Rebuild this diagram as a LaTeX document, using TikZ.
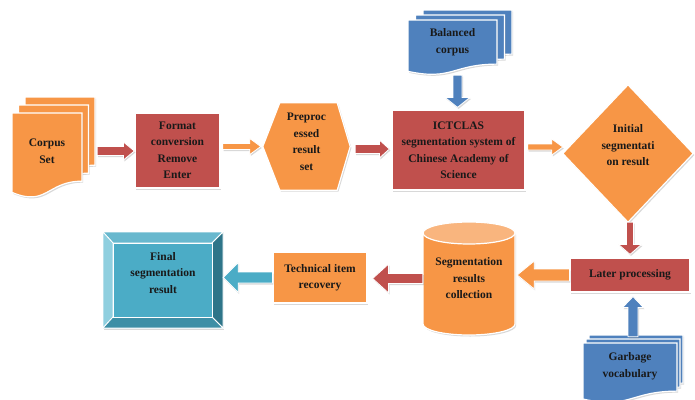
\documentclass[tikz,border=0pt]{standalone}
\usepackage{fontspec}
\setmainfont{Liberation Serif}
\usetikzlibrary{shadows,backgrounds,calc}
\definecolor{redC}{HTML}{C0504D}
\definecolor{orgC}{HTML}{F79646}
\definecolor{bluC}{HTML}{4F81BD}
\definecolor{tealC}{HTML}{4BACC6}
\definecolor{tealL}{HTML}{8FCFDF}
\definecolor{tealM}{HTML}{68B8CE}
\definecolor{tealD}{HTML}{2E7589}
\definecolor{tealB}{HTML}{3D8FA6}
\tikzset{
  shp/.style={draw=white, line width=1.2pt, drop shadow={shadow xshift=1.2pt, shadow yshift=-1.5pt, opacity=0.3}},
  txt/.style={font=\bfseries\fontsize{11.5}{16.5}\selectfont, align=center, text=black!90, inner sep=0pt},
  box/.style={txt, shp, rectangle},
  hole/.style={txt, rectangle, draw=none},
  arr/.style={draw=white, line width=0.8pt, drop shadow={shadow xshift=1pt, shadow yshift=-1.5pt, opacity=0.3}},
  bev/.style={draw=white, line width=0.8pt},
}
\newcommand\docpage[5]{%
  \filldraw[shp,#5] (#1,#2) -- ({#1+#3},#2) -- ({#1+#3},{#2+0.802*#4})
    .. controls ({#1+0.5*#3},{#2+0.802*#4}) and ({#1+0.5*#3},{#2+1.107*#4}) .. (#1,{#2+0.934*#4}) -- cycle;}
\newcommand\harr[6]{%
  \path[#1] let \p1=(#2), \p2=(#3), \n1={sign(\x2-\x1)} in
   (\x1,{\y1+#4}) -- ({\x2-(\n1)*#6},{\y1+#4}) -- ({\x2-(\n1)*#6},{\y1+#5}) -- (\x2,\y1)
   -- ({\x2-(\n1)*#6},{\y1-#5}) -- ({\x2-(\n1)*#6},{\y1-#4}) -- (\x1,{\y1-#4}) -- cycle;}
\newcommand\varr[6]{%
  \path[#1] let \p1=(#2), \p2=(#3), \n1={sign(\y2-\y1)} in
   ({\x1+#4},\y1) -- ({\x1+#4},{\y2-(\n1)*#6}) -- ({\x1+#5},{\y2-(\n1)*#6}) -- (\x1,\y2)
   -- ({\x1-#5},{\y2-(\n1)*#6}) -- ({\x1-#4},{\y2-(\n1)*#6}) -- ({\x1-#4},\y1) -- cycle;}
\begin{document}
\begin{tikzpicture}[x=1pt,y=-1pt]
\useasboundingbox (0,0) rectangle (695,399);
% ---------- nodes ----------
\node[hole, minimum width=70pt, minimum height=84pt] (cs) at (47,151) {Corpus\\Set};
\node[box, fill=redC, minimum width=85pt, minimum height=75pt] (fmt) at (177.5,150.5) {Format\\conversion\\Remove\\Enter};
\node[hole, minimum width=87pt, minimum height=87pt,
      label={[txt,yshift=4.5pt]center:{Preproc\\essed\\result\\set}}] (pre) at (306.5,146.5) {};
\node[box, fill=redC, minimum width=133pt, minimum height=80pt] (ict) at (458.5,150) {ICTCLAS\\segmentation system of\\Chinese Academy of\\Science};
\node[hole, minimum width=89pt, minimum height=44pt] (bal) at (452.5,42) {Balanced\\corpus};
\node[hole, minimum width=130pt, minimum height=137pt,
      label={[txt,yshift=8pt]center:{Initial\\segmentati\\on result}}] (dia) at (628,153.5) {};
\node[box, fill=redC, minimum width=120pt, minimum height=34pt] (later) at (630,275) {Later processing};
\node[hole, minimum width=94pt, minimum height=46pt] (gar) at (630,366) {Garbage\\vocabulary};
\node[hole, minimum width=92pt, minimum height=113pt] (cyl) at (469,278.5) {Segmentation\\results\\collection};
\node[box, fill=orgC, minimum width=94pt, minimum height=51pt] (tech) at (320,277.5) {Technical item\\recovery};
\node[hole, minimum width=120pt, minimum height=96pt,
      label={[txt,yshift=7pt]center:{Final\\segmentation\\result}}] (fin) at (163,280) {};
% ---------- shapes behind the texts ----------
\begin{scope}[on background layer]
  \fill[white] (0,0) rectangle (695,399);
  % corpus set
  \docpage{25}{97}{70}{85}{fill=orgC}
  \docpage{18.5}{105}{70}{85}{fill=orgC}
  \docpage{12}{113}{70}{85}{fill=orgC}
  % balanced corpus
  \docpage{423}{10}{89}{55}{fill=bluC}
  \docpage{415.5}{15}{89}{55}{fill=bluC}
  \docpage{408}{20}{89}{55}{fill=bluC}
  % garbage vocabulary
  \docpage{589}{335}{94}{60}{fill=bluC}
  \docpage{586}{339}{94}{60}{fill=bluC}
  \docpage{583}{343}{94}{60}{fill=bluC}
  % hexagon
  \filldraw[shp, fill=orgC] (pre.west) -- ([xshift=17pt]pre.north west) -- ([xshift=-13pt]pre.north east)
     -- (pre.east) -- ([xshift=-13pt]pre.south east) -- ([xshift=17pt]pre.south west) -- cycle;
  % diamond
  \filldraw[shp, fill=orgC] (dia.west) -- (dia.north) -- (dia.east) -- (dia.south) -- cycle;
  % cylinder
  \filldraw[shp, fill=orgC] (423,233) -- (423,324) arc[start angle=180, end angle=0, x radius=46, y radius=11]
     -- (515,233) -- cycle;
  \filldraw[draw=white, line width=1.2pt, fill=orgC!70!white] (469,233) ellipse[x radius=46, y radius=11];
  % bevelled box
  \filldraw[shp, fill=tealC] (103,232) rectangle (223,328);
  \filldraw[bev, fill=tealM] (103,232) -- (223,232) -- (212,243) -- (113,243) -- cycle;
  \filldraw[bev, fill=tealL] (103,232) -- (113,243) -- (113,317) -- (103,328) -- cycle;
  \filldraw[bev, fill=tealD] (223,232) -- (223,328) -- (212,317) -- (212,243) -- cycle;
  \filldraw[bev, fill=tealB] (103,328) -- (223,328) -- (212,317) -- (113,317) -- cycle;
  \filldraw[bev, fill=tealC] (113,243) rectangle (212,317);
\end{scope}
% ---------- connectors ----------
\harr{arr, fill=redC}{[xshift=15pt]cs.east}{fmt.west}{4.5pt}{9pt}{11pt}
\harr{arr, fill=orgC}{[xshift=2pt,yshift=4pt]fmt.east}{[xshift=-2pt]pre.west}{3pt}{8pt}{11pt}
\harr{arr, fill=redC}{[xshift=5pt,yshift=-2.5pt]pre.east}{[xshift=-2pt]ict.west}{4.5pt}{9pt}{10pt}
\harr{arr, fill=orgC}{[xshift=2pt,yshift=3pt]ict.east}{dia.west}{3pt}{8pt}{11pt}
\varr{arr, fill=bluC}{[xshift=5pt,yshift=-11pt]bal.south}{[yshift=2pt]ict.north}{4.5pt}{12.5pt}{10pt}
\varr{arr, fill=redC}{[xshift=2pt]dia.south}{[yshift=3pt]later.north}{3.5pt}{11.5pt}{10pt}
\varr{arr, fill=bluC}{[xshift=3pt,yshift=6pt]gar.north}{[yshift=-4pt]later.south}{5pt}{10.5pt}{11pt}
\harr{arr, fill=orgC}{later.west}{[xshift=2pt]cyl.east}{6pt}{14pt}{17pt}
\harr{arr, fill=redC}{cyl.west}{[xshift=5pt]tech.east}{5pt}{14.5pt}{16pt}
\harr{arr, fill=tealC}{tech.west}{fin.east}{5.5pt}{15pt}{15pt}
\end{tikzpicture}
\end{document}
